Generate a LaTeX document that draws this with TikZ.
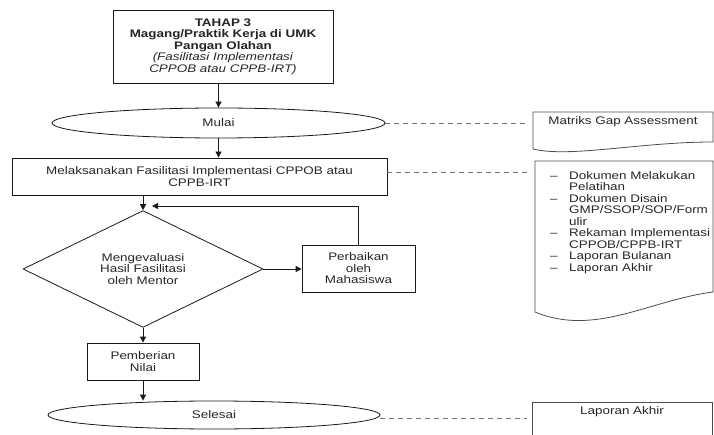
\documentclass[tikz,border=0pt]{standalone}
\usepackage{fontspec}
\setmainfont[FakeStretch=1.22]{Liberation Sans}
\usetikzlibrary{positioning, arrows.meta, shapes.geometric, calc}

\tikzset{
	box/.style={draw=black!90, line width=0.8pt, align=center, inner sep=2pt},
	terminal/.style={ellipse, draw=black!90, line width=0.8pt, minimum width=333pt, minimum height=30pt, inner sep=0pt},
	decision/.style={diamond, draw=black!90, line width=0.8pt, align=center, minimum width=240pt, minimum height=98pt, inner sep=0pt},
	flow/.style={-{Triangle[length=6pt,width=6pt]}, line width=0.8pt, black!90},
	link/.style={draw=black!55, line width=0.7pt, dash pattern=on 5pt off 4pt},
	doc/.style={draw=black!70, line width=0.8pt},
}

\begin{document}
\begin{tikzpicture}[x=1pt, y=-1pt, font=\fontsize{11}{11.5}\selectfont, text=black!85]
	\useasboundingbox (0,0) rectangle (714,435);
	\clip (0,0) rectangle (714,435);
	
	% alur utama
	\node[box, minimum width=220pt, minimum height=73pt] (tahap) at (223,46.5)
		{\textbf{TAHAP 3}\\\textbf{Magang/Praktik Kerja di UMK}\\\textbf{Pangan Olahan}\\\textit{(Fasilitasi Implementasi}\\\textit{CPPOB atau CPPB-IRT)}};
	\node[terminal] (mulai) at (218.5,123) {Mulai};
	\node[box, minimum width=375pt, minimum height=37pt] (impl) at (199.5,176.5)
		{Melaksanakan Fasilitasi Implementasi CPPOB atau\\CPPB-IRT};
	\node[decision] (eval) at (143,269) {Mengevaluasi\\Hasil Fasilitasi\\oleh Mentor};
	\node[box, minimum width=113pt, minimum height=47pt] (fix) at (358.5,268.5) {Perbaikan\\oleh\\Mahasiswa};
	\node[box, minimum width=112pt, minimum height=37pt] (nilai) at (143,361.5) {Pemberian\\Nilai};
	\node[terminal, minimum width=332pt, minimum height=28pt] (selesai) at (214,415) {Selesai};
	
	\coordinate (loop) at (152,206);
	\draw[flow] (mulai.north |- tahap.south) -- (mulai.north);
	\draw[flow] (mulai.south) -- (mulai.south |- impl.north);
	\draw[flow] (eval.north |- impl.south) -- (eval.north);
	\draw[flow] (eval.east) -- (eval.east -| fix.west);
	\draw[flow] (fix.north) |- (loop);
	\draw[flow] (eval.south) -- (nilai.north);
	\draw[flow] (nilai.south) -- (nilai.south |- selesai.north);
	
	% dokumen
	\coordinate (doc1) at (533,112);
	\coordinate (doc2) at (535,161);
	\coordinate (doc3) at (532,402);
	\draw[doc] (533,149) -- (doc1) -- (713,112) -- (713,142) .. controls (640,142) and (570,158) .. (533,149) -- cycle;
	\draw[doc] (535,312) -- (doc2) -- (713,161) -- (713,292) .. controls (650,300) and (595,337) .. (535,312) -- cycle;
	\draw[doc] (532,445) -- (doc3) -- (712,402) -- (712,445);
	
	\node (matriks) at (623,122) {Matriks Gap Assessment};
	\node[anchor=north west, inner sep=0pt] (dokumen) at (550,171) {%
		\begin{tabular}{@{}l@{}l@{}}
			\makebox[19pt][l]{--} & Dokumen Melakukan\\
			& Pelatihan\\
			-- & Dokumen Disain\\
			& GMP/SSOP/SOP/Form\\
			& ulir\\
			-- & Rekaman Implementasi\\
			& CPPOB/CPPB-IRT\\
			-- & Laporan Bulanan\\
			-- & Laporan Akhir
		\end{tabular}};
	\node (akhir) at (622,412) {Laporan Akhir};
	
	\coordinate (implout) at ([yshift=4pt]impl.east);
	\coordinate (selout) at ([yshift=-3pt]selesai.east);
	\draw[link] (mulai.east) -- ([xshift=-5pt]doc1 |- mulai.east);
	\draw[link] (implout) -- ([xshift=-5pt]doc2 |- implout);
	\draw[link] (selout) -- ([xshift=-5pt]doc3 |- selout);
\end{tikzpicture}
\end{document}
